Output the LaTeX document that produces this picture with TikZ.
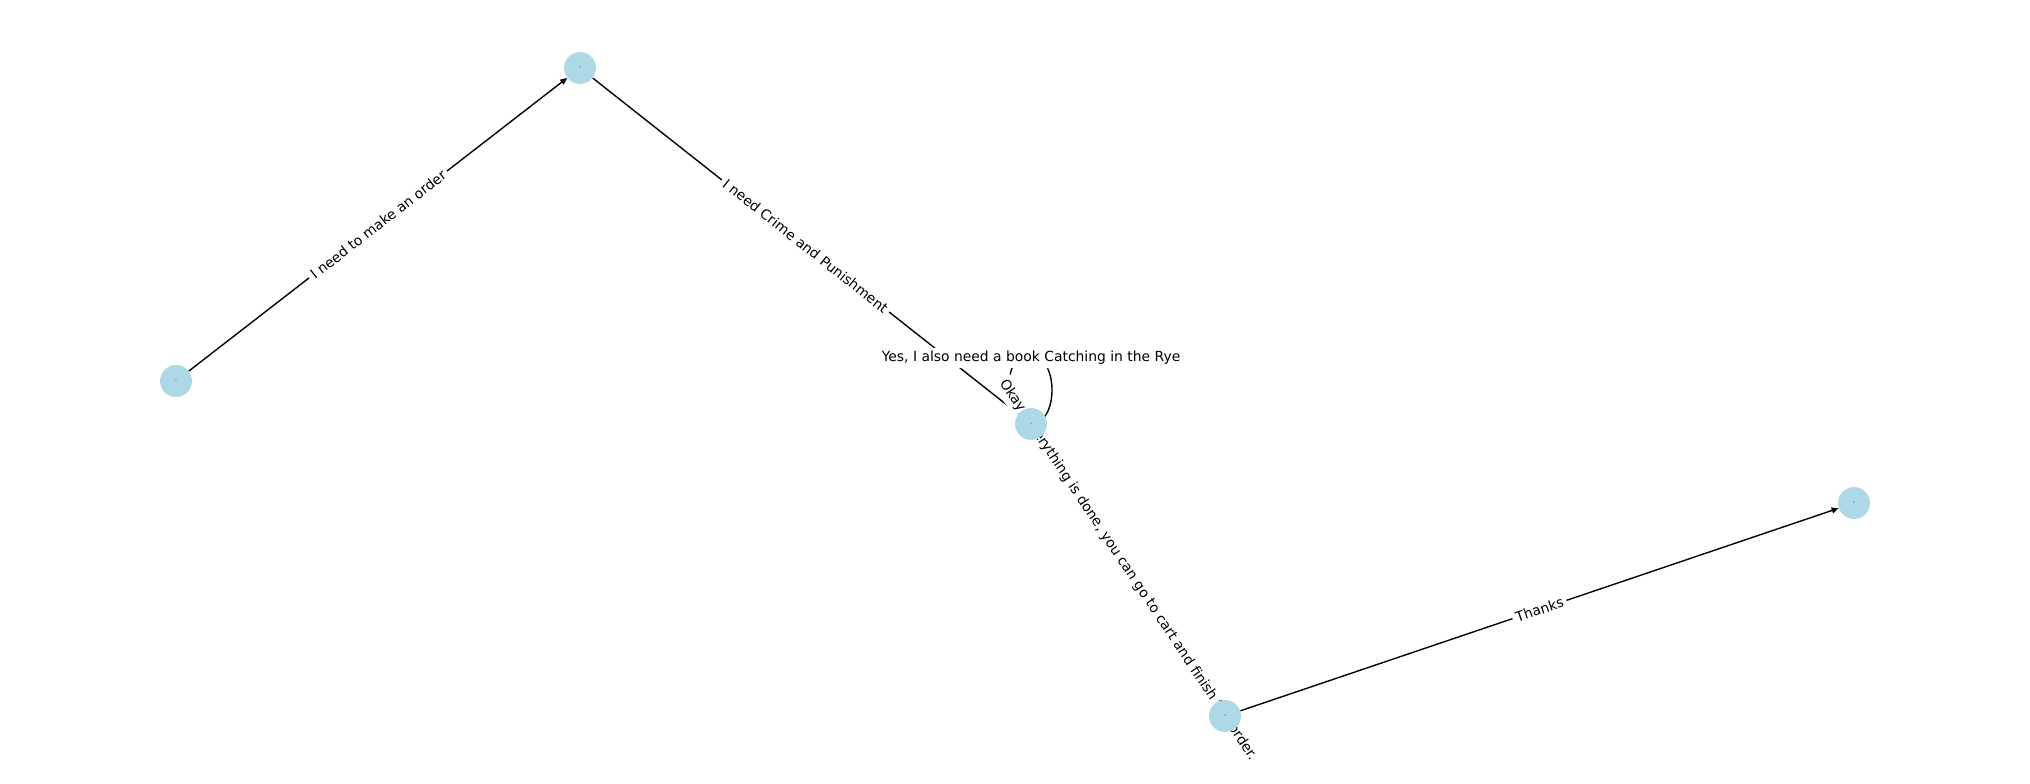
\documentclass[tikz,border=0pt]{standalone}
\usepackage{fontspec}
\setmainfont{DejaVu Sans}
\usetikzlibrary{arrows.meta,backgrounds}
\definecolor{nodeblue}{HTML}{ADD8E6}
\begin{document}
\begin{tikzpicture}[x=0.72pt,y=-0.72pt,
  vtx/.style={circle,fill=nodeblue,draw=none,minimum size=23pt,inner sep=0pt,font=\fontsize{1.6}{2}\selectfont,text=black!80},
  conn/.style={draw=black,line width=1pt},
  arr/.style={-{Triangle[length=5pt,width=4.2pt]}},
  elabel/.style={fill=white,inner sep=2.5pt,rounded corners=2pt,font=\fontsize{10}{12}\selectfont}]
\useasboundingbox (0,0) rectangle (2030,784);
\node[vtx] (n1) at (176,381) {1};
\node[vtx] (n2) at (580,68) {2};
\node[vtx] (n3) at (1031,424) {3};
\node[vtx] (n4) at (1225,716) {4};
\node[vtx] (n5) at (1854,503) {5};
\coordinate (looptop) at (1031,356);
\begin{scope}[on background layer]
  \draw[conn,arr] (n1) -- (n2);
  \draw[conn,arr] (n2) -- (n3);
  \draw[conn,arr] (looptop) .. controls (1059,356) and (1059,424) .. (n3.center)
                   .. controls (1003,424) and (1003,356) .. (looptop);
  \draw[conn,arr] (n3) -- (n4);
  \draw[conn,arr] (n4) -- (n5);
  \node[elabel,rotate=37.8] (l12) at (378,224.5) {I need to make an order};
  \node[elabel,rotate=-38.3] (l23) at (805.5,246) {I need Crime and Punishment};
  \node[elabel] (l33) at (1031,358) {Yes, I also need a book Catching in the Rye};
  \node[elabel,rotate=-56.4] (l34) at (1128,570) {Okay, everything is done, you can go to cart and finish the order.};
  \node[elabel,rotate=18.7] (l45) at (1539.5,609.5) {Thanks};
\end{scope}
\end{tikzpicture}
\end{document}
